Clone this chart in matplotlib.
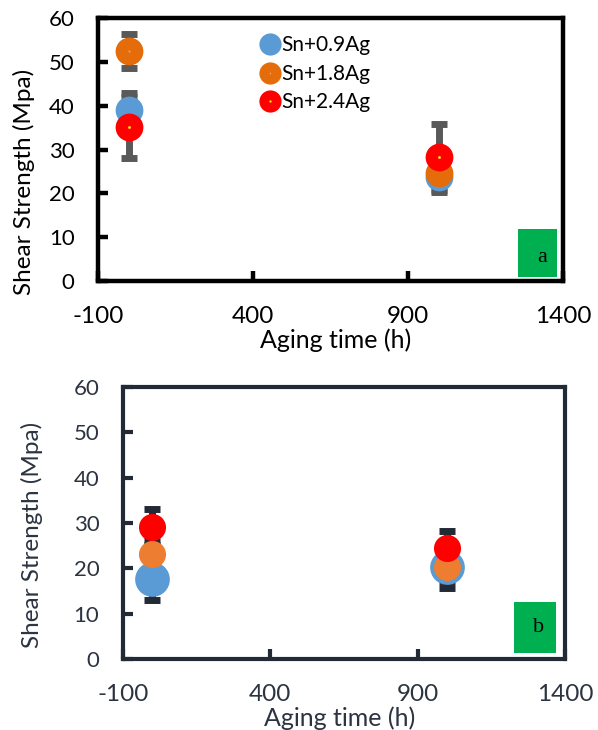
import matplotlib
matplotlib.use("Agg")
import matplotlib.pyplot as plt
from matplotlib.patches import Rectangle

plt.rcParams['font.family'] = ['Lato', 'DejaVu Sans']
plt.rcParams['axes.unicode_minus'] = False

# aging time (h)
aging = [0, 1000]
labels = ["Sn+0.9Ag", "Sn+1.8Ag", "Sn+2.4Ag"]

# panel a: shear strength (MPa) and error bars
a_blue = [39.0, 23.7]
a_orange = [52.5, 24.6]
a_red = [35.1, 28.3]
a_blue_err = [4.0, 3.4]
a_orange_err = [3.8, 2.0]
a_red_err = [7.0, 7.5]

# panel b
b_blue = [17.7, 20.3]
b_orange = [23.2, 20.3]
b_red = [29.1, 24.5]
b_blue_err = [4.7, 4.6]
b_orange_err = [3.0, 3.0]
b_red_err = [4.0, 3.8]

xticks = [-100, 400, 900, 1400]
yticks = [0, 10, 20, 30, 40, 50, 60]

fig = plt.figure(figsize=(5.98, 7.30), dpi=100)


def setup(ax, spine_col, text_col, lw):
    ax.set_xlim(-100, 1400)
    ax.set_ylim(0, 60)
    ax.set_xticks(xticks)
    ax.set_yticks(yticks)
    for s in ax.spines.values():
        s.set_linewidth(lw)
        s.set_color(spine_col)
    ax.tick_params(axis='both', direction='in', length=7, width=lw, color=spine_col)
    ax.tick_params(axis='y', labelsize=16, pad=17, labelcolor=text_col)
    ax.tick_params(axis='x', labelsize=17.5, pad=18, labelcolor=text_col)
    ax.set_xlabel("Aging time (h)", fontsize=18, color=text_col)
    ax.set_ylabel("Shear Strength (Mpa)", fontsize=17.5, color=text_col)


def points(ax, blue, orange, red, errs, err_col, sizes, ocol):
    for vals, e in zip([blue, orange, red], errs):
        ax.errorbar(aging, vals, yerr=e, fmt='none', ecolor=err_col,
                    elinewidth=5, capsize=6, capthick=5, zorder=2)
    hb, = ax.plot(aging, blue, 'o', ms=sizes[0], color='#5b9bd5', mec='none', zorder=3)
    ho, = ax.plot(aging, orange, 'o', ms=sizes[1], color=ocol, mec='none', zorder=4)
    hr, = ax.plot(aging, red, 'o', ms=sizes[2], color='#ff0000', mec='none', zorder=5)
    return hb, ho, hr


# ---- panel a
axa = fig.add_axes([0.164, 0.615, 0.7776, 0.360])
setup(axa, 'black', 'black', 3.2)
hb, ho, hr = points(axa, a_blue, a_orange, a_red, [a_blue_err, a_orange_err, a_red_err],
                    '#595959', [20, 20, 20], '#e46c0a')
do, = axa.plot(aging[:1], a_orange[:1], 'o', ms=1.5, color='#f2a36b', mec='none', zorder=6)
dr, = axa.plot(aging, a_red, 'o', ms=2, color='#ffff00', mec='none', zorder=6)
axa.yaxis.set_label_coords(-0.135, 0.376)
axa.xaxis.set_label_coords(0.51, -0.18)
axa.legend([hb, (ho, do), (hr, dr)], labels, loc='upper left',
           bbox_to_anchor=(0.314, 0.99), frameon=False,
           fontsize=15, markerscale=0.8, handletextpad=0.0,
           labelspacing=0.4, handlelength=1.1, borderaxespad=0.3)
axa.add_patch(Rectangle((0.903, 0.015), 0.084, 0.183, transform=axa.transAxes,
                        facecolor='#00b050', edgecolor='none', zorder=1))
axa.text(0.955, 0.09, "a", transform=axa.transAxes, fontsize=16,
         family='Liberation Serif', ha='center', va='center')

# ---- panel b
axb = fig.add_axes([0.2057, 0.0973, 0.739, 0.3726])
setup(axb, '#222a35', '#2b3440', 3.0)
points(axb, b_blue, b_orange, b_red, [b_blue_err, b_orange_err, b_red_err],
       '#222a35', [25, 19.5, 19.5], '#ed7d31')
axb.yaxis.set_label_coords(-0.181, 0.456)
axb.xaxis.set_label_coords(0.49, -0.175)
axb.add_patch(Rectangle((0.885, 0.022), 0.095, 0.188, transform=axb.transAxes,
                        facecolor='#00b050', edgecolor='none', zorder=1))
axb.text(0.94, 0.115, "b", transform=axb.transAxes, fontsize=16,
         family='Liberation Serif', ha='center', va='center')

fig.savefig("out.png", dpi=100)
